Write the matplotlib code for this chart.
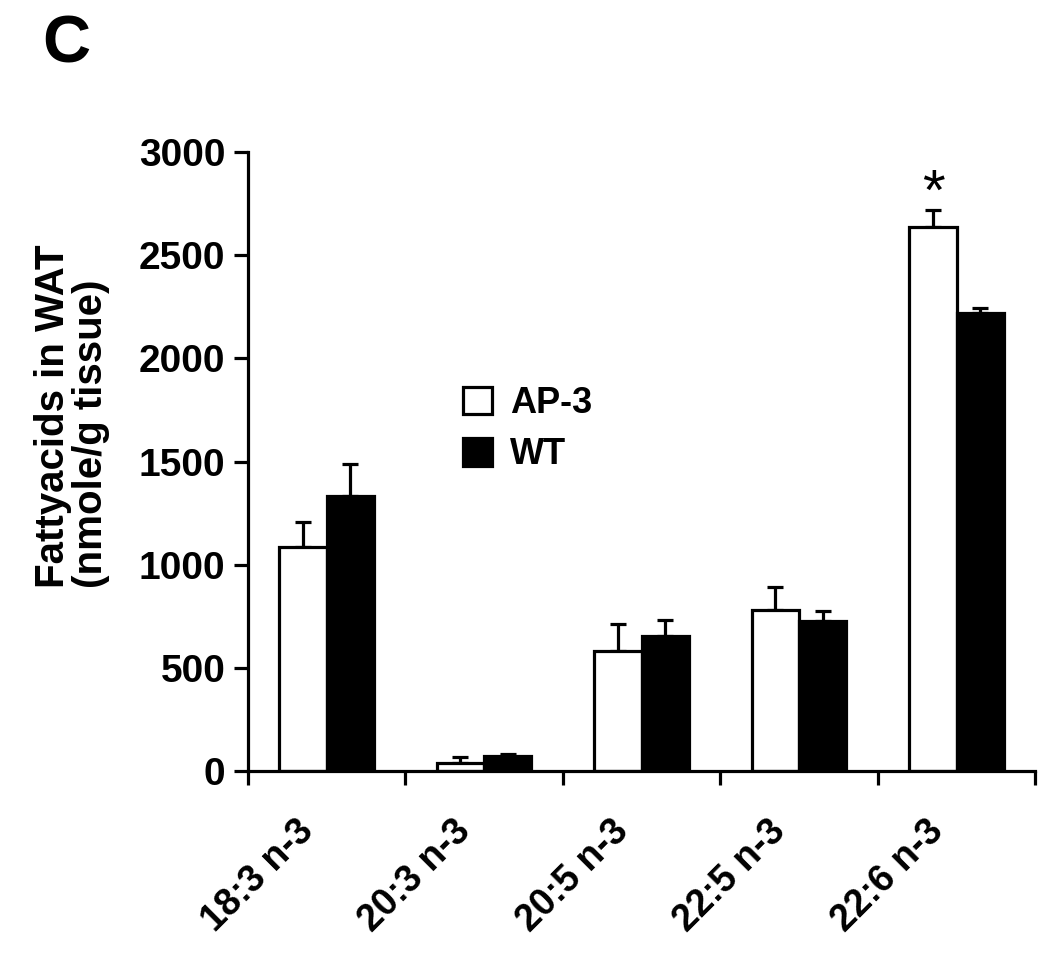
import matplotlib
matplotlib.use("Agg")
from matplotlib import pyplot as plt
from matplotlib.patches import Patch
import numpy as np

categories = ["18:3 n-3", "20:3 n-3", "20:5 n-3", "22:5 n-3", "22:6 n-3"]
ap3 = [1085, 41, 580, 779, 2636]
ap3_err = [120, 27, 134, 113, 84]
wt = [1331, 73, 654, 729, 2221]
wt_err = [155, 11, 76, 46, 24]
star_cat = 4  # significance mark over AP-3

plt.rcParams['font.family'] = ['Liberation Sans', 'DejaVu Sans']
plt.rcParams['font.weight'] = 'bold'

fig = plt.figure(figsize=(10.5, 9.56), dpi=100)
ax = fig.add_axes([0.236, 0.1935, 0.750, 0.6475])

x = np.arange(len(categories))
w = 0.3
lw = 2.3

ax.bar(x - w / 2, ap3, w, color='white', edgecolor='black', linewidth=lw, zorder=2)
ax.bar(x + w / 2, wt, w, color='black', edgecolor='black', linewidth=lw, zorder=2)
ax.errorbar(x - w / 2, ap3, yerr=[np.zeros(5), ap3_err], fmt='none', ecolor='black',
            elinewidth=lw, capsize=5.5, capthick=lw, zorder=1)
ax.errorbar(x + w / 2, wt, yerr=[np.zeros(5), wt_err], fmt='none', ecolor='black',
            elinewidth=lw, capsize=5.5, capthick=lw, zorder=1)

ax.text(x[star_cat] - w / 2, ap3[star_cat] + ap3_err[star_cat], "*",
        ha='center', va='baseline', fontsize=42, fontweight='normal')

ax.set_xlim(-0.5, len(categories) - 0.5)
ax.set_ylim(0, 3000)
ax.set_yticks(range(0, 3001, 500))
ax.set_xticks(np.arange(-0.5, len(categories), 1.0))
ax.set_xticklabels([])
# rotated labels sit a bit left of the group centre
ax.set_xticks(x - 0.2, minor=True)
ax.set_xticklabels(categories, minor=True, rotation=45, ha='right', va='top',
                   rotation_mode='anchor', fontsize=27, fontweight='bold')
ax.tick_params(axis='x', which='minor', length=0, pad=30)
ax.tick_params(axis='x', which='major', length=10, width=lw, direction='out')
ax.tick_params(axis='y', length=10, width=lw, direction='out', labelsize=28, pad=6)
for lab in ax.get_yticklabels():
    lab.set_fontweight('bold')

for s in ['top', 'right']:
    ax.spines[s].set_visible(False)
for s in ['left', 'bottom']:
    ax.spines[s].set_linewidth(lw)

ax.set_ylabel("Fattyacids in WAT\n(nmole/g tissue)", fontsize=29, fontweight='bold',
              ha='left', va='bottom', multialignment='left', linespacing=1.0)
ax.yaxis.set_label_coords(-0.175, 0.296)

handles = [Patch(facecolor='white', edgecolor='black', linewidth=lw, label='AP-3'),
           Patch(facecolor='black', edgecolor='black', linewidth=lw, label='WT')]
ax.legend(handles=handles, loc='upper left', bbox_to_anchor=(0.424, 0.615),
          bbox_transform=fig.transFigure, frameon=False,
          handlelength=0.8, handleheight=0.8, handletextpad=0.5, labelspacing=0.45,
          borderpad=0, prop={'weight': 'bold', 'size': 26})

fig.text(0.040, 0.935, "C", fontsize=48, fontweight='bold', va='baseline', ha='left')

fig.savefig("out.png", dpi=100)
